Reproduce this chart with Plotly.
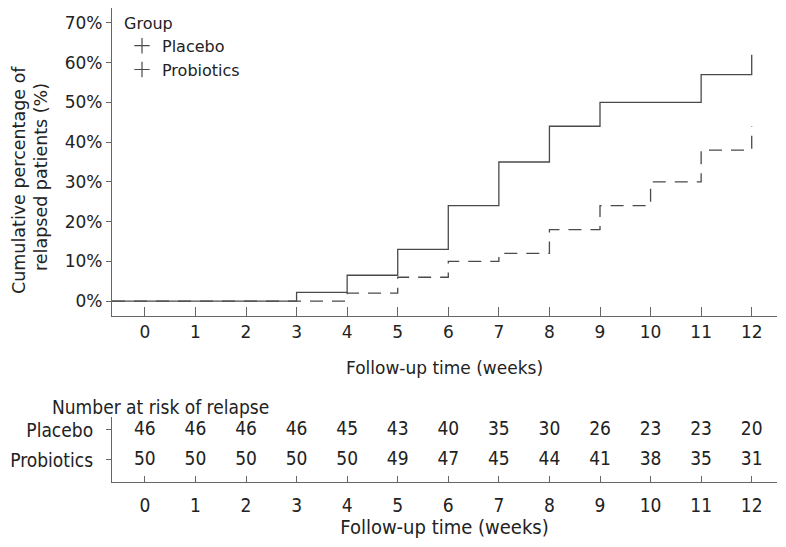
import plotly.graph_objects as go

weeks = list(range(13))
placebo_pct = [0, 0, 0, 2.2, 6.5, 13, 24, 35, 44, 50, 50, 57, 62]
probiotics_pct = [0, 0, 0, 0, 2, 6, 10, 12, 18, 24, 30, 38, 44]
placebo_risk = [46, 46, 46, 46, 45, 43, 40, 35, 30, 26, 23, 23, 20]
probiotics_risk = [50, 50, 50, 50, 50, 49, 47, 45, 44, 41, 38, 35, 31]
y_ticks = [0, 10, 20, 30, 40, 50, 60, 70]

# page body adds an 8px margin, so the figure is shrunk by that much
OFF = 8
W, H = 786 - 2 * OFF, 547 - 2 * OFF


def px(p):
    return (p - OFF) / W


def py(p):
    return min(1, 1 - (p - OFF) / H)


x_range = [-0.65, 12.5]
line_col = "#4a4a4a"
axis_col = "#666666"
font = "DejaVu Sans"
font_c = "DejaVu Sans Condensed"
txt_col = "#222222"

fig = go.Figure()

# curves start at the left edge of the axis
fig.add_trace(go.Scatter(
    x=[x_range[0]] + weeks, y=[0] + probiotics_pct, mode="lines",
    line=dict(color=line_col, width=1.3, dash="13px,9px", shape="hv"),
    showlegend=False, xaxis="x", yaxis="y"))
fig.add_trace(go.Scatter(
    x=[x_range[0]] + weeks, y=[0] + placebo_pct, mode="lines",
    line=dict(color=line_col, width=1.3, shape="hv"),
    showlegend=False, xaxis="x", yaxis="y"))

# legend entries
for name in ["Placebo", "Probiotics"]:
    fig.add_trace(go.Scatter(
        x=[None], y=[None], mode="markers", name=name,
        marker=dict(symbol="cross-thin-open", size=11, color=line_col,
                    line=dict(color=line_col, width=1.2)),
        xaxis="x", yaxis="y"))

# number at risk table
fig.add_trace(go.Scatter(
    x=weeks, y=[2] * 13, mode="text", text=[str(v) for v in placebo_risk],
    textfont=dict(family=font_c, size=19, color=txt_col),
    showlegend=False, xaxis="x2", yaxis="y2"))
fig.add_trace(go.Scatter(
    x=weeks, y=[1] * 13, mode="text", text=[str(v) for v in probiotics_risk],
    textfont=dict(family=font_c, size=19, color=txt_col),
    showlegend=False, xaxis="x2", yaxis="y2"))

xdom = [px(112), px(777)]
fig.update_layout(
    width=W, height=H,
    margin=dict(l=0, r=0, t=0, b=0),
    plot_bgcolor="white", paper_bgcolor="white",
    font=dict(family=font, size=16, color=txt_col),
    xaxis=dict(domain=xdom, range=x_range, tickvals=weeks, automargin=False,
               showline=True, linecolor=axis_col, linewidth=1.2,
               ticks="inside", ticklen=9, tickcolor=axis_col,
               tickfont=dict(family=font, size=17, color=txt_col),
               showgrid=False, zeroline=False, anchor="y",
               title=dict(text="Follow-up time (weeks)", standoff=21,
                          font=dict(family=font, size=17, color=txt_col))),
    yaxis=dict(domain=[py(316), py(6)], range=[-3.75, 73.75],
               tickvals=y_ticks, ticktext=[f"{v}%" for v in y_ticks],
               automargin=False,
               showline=True, linecolor=axis_col, linewidth=1.2,
               ticks="outside", ticklen=5, tickcolor=axis_col,
               tickfont=dict(family=font, size=17, color=txt_col),
               showgrid=False, zeroline=False, anchor="x"),
    xaxis2=dict(domain=xdom, range=x_range, tickvals=weeks, automargin=False,
                showline=True, linecolor=axis_col, linewidth=1.2,
                ticks="inside", ticklen=6, tickcolor=axis_col,
                tickfont=dict(family=font_c, size=19, color=txt_col),
                ticklabelstandoff=6,
                showgrid=False, zeroline=False, anchor="y2",
                title=dict(text="Follow-up time (weeks)", standoff=17,
                           font=dict(family=font_c, size=20, color=txt_col))),
    yaxis2=dict(domain=[py(482), py(417)], range=[0.267, 2.43],
                tickvals=[2, 1], ticktext=["Placebo", "Probiotics"],
                automargin=False,
                showline=True, linecolor=axis_col, linewidth=1.2,
                ticks="outside", ticklen=5, tickcolor=axis_col,
                tickfont=dict(family=font_c, size=19, color=txt_col),
                ticklabelstandoff=9,
                showgrid=False, zeroline=False, anchor="x2"),
    legend=dict(x=px(122), y=1, xanchor="left", yanchor="top",
                title=dict(text="Group", font=dict(family=font, size=16)),
                font=dict(family=font, size=16), bgcolor="rgba(0,0,0,0)",
                itemwidth=30, tracegroupgap=0),
    annotations=[
        dict(text="Number at risk of relapse", x=px(50), y=py(407),
             xref="paper", yref="paper", xanchor="left", yanchor="middle",
             showarrow=False, font=dict(family=font_c, size=19, color=txt_col)),
        dict(text="Cumulative percentage of", x=px(19), y=py(180), textangle=-90,
             xref="paper", yref="paper", xanchor="center", yanchor="middle",
             showarrow=False, font=dict(family=font, size=17.5, color=txt_col)),
        dict(text="relapsed patients (%)", x=px(41), y=py(177), textangle=-90,
             xref="paper", yref="paper", xanchor="center", yanchor="middle",
             showarrow=False, font=dict(family=font, size=17.5, color=txt_col)),
    ],
)

fig.write_html("out.html")
